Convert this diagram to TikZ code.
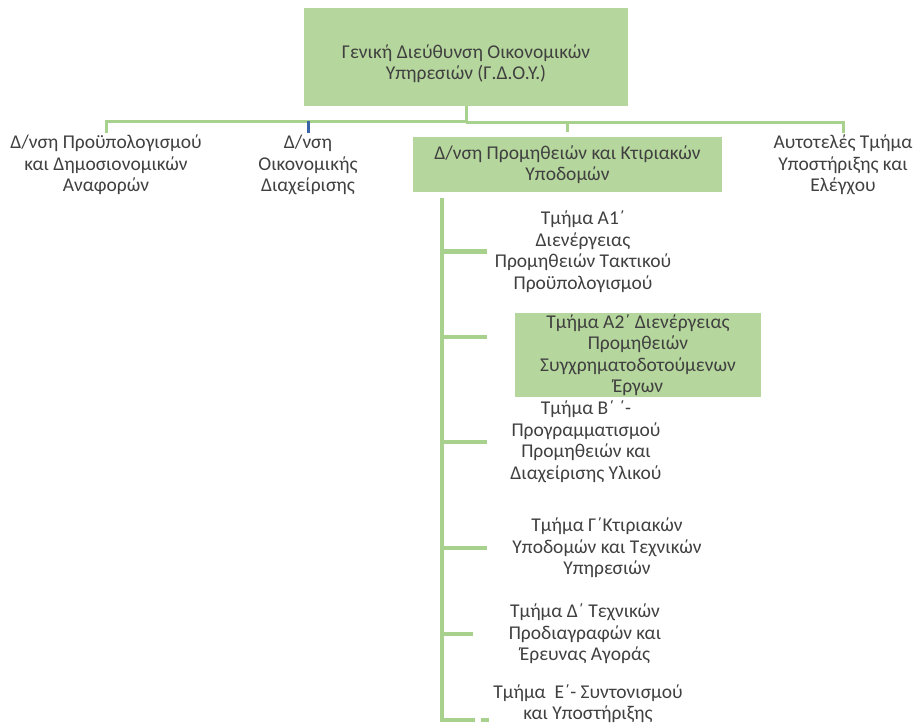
\documentclass[tikz,border=0pt]{standalone}
\usepackage{fontspec}
\setmainfont{Carlito}
\usepackage{tikz}
\usetikzlibrary{positioning,calc}
\definecolor{boxgreen}{HTML}{B5D69C}
\definecolor{linegreen}{HTML}{A9D18E}
\definecolor{ink}{HTML}{404040}
\definecolor{tickblue}{HTML}{3A65A8}

\begin{document}
\begin{tikzpicture}[x=1pt,y=-1pt,font={\fontsize{19.5}{21.5}\selectfont},text=ink,
  lbl/.style={align=center,inner sep=2pt},
  gbox/.style={fill=boxgreen,align=center,inner sep=0pt},
  link/.style={draw=linegreen,line width=3pt},
  branch/.style={draw=linegreen,line width=4.5pt}]
\useasboundingbox (0,0) rectangle (914,724);
% top level
\node[gbox,minimum width=324pt,minimum height=98pt] (gdoy) at (466,57) {\rule{0pt}{27pt}Γενική Διεύθυνση Οικονομικών\\Υπηρεσιών (Γ.Δ.Ο.Υ.)};
\node[lbl] (dprou) at (106,165) {Δ/νση Προϋπολογισμού\\και Δημοσιονομικών\\Αναφορών};
\node[lbl] (doik) at (308,165) {Δ/νση\\Οικονομικής\\Διαχείρισης};
\node[gbox,minimum width=309pt,minimum height=55pt] (dprom) at (567.5,164.5) {Δ/νση Προμηθειών και Κτιριακών\\Υποδομών};
\node[lbl] (autot) at (843,165) {Αυτοτελές Τμήμα\\Υποστήριξης και\\Ελέγχου};
\draw[link] (gdoy.south) -- ++(0,15) coordinate (hub) -| (dprou.north);
\draw[link] ($(hub)+(0,1.5)$) -| (autot.north);
\draw[link] ($(hub -| dprom.north)+(0,1.5)$) -- ([yshift=5pt]dprom.north);
\draw[tickblue,line width=3pt] (hub -| doik.north) -- (doik.north);
% departments
\node[gbox,minimum width=246pt,minimum height=84pt] (a2) at (638,355) {Τμήμα Α2΄ Διενέργειας\\Προμηθειών\\Συγχρηματοδοτούμενων\\Έργων};
\foreach \n/\t/\x/\y in {a1/{Τμήμα Α1΄\\Διενέργειας\\Προμηθειών Τακτικού\\Προϋπολογισμού}/583/251.5,
  b/{Τμήμα Β΄ ΄-\\Προγραμματισμού\\Προμηθειών και\\Διαχείρισης Υλικού}/586/442,
  g/{Τμήμα Γ΄Κτιριακών\\Υποδομών και Τεχνικών\\Υπηρεσιών}/607/548,
  d/{Τμήμα Δ΄ Τεχνικών\\Προδιαγραφών και\\Έρευνας Αγοράς}/585/634,
  e/{Τμήμα~ Ε΄- Συντονισμού\\και Υποστήριξης}/588/703.5}
  \node[lbl] (\n) at (\x,\y) {\t};
\coordinate (sptop) at ([xshift=29pt,yshift=-6pt]dprom.south west);
\coordinate (spbot) at (sptop |- 0,720);
\draw[branch] (sptop) -- (spbot) -- ++(33,0);
\draw[branch] ($(spbot)+(39,0)$) -- ++(8,0);
\foreach \n in {a1,b,g} \draw[branch] (sptop |- \n) -- ++(45,0);
\draw[branch] ($(sptop |- a2.west)+(0,-18)$) -- ++(45,0);
\draw[branch] (sptop |- d) -- ++(31,0);
\end{tikzpicture}
\end{document}
